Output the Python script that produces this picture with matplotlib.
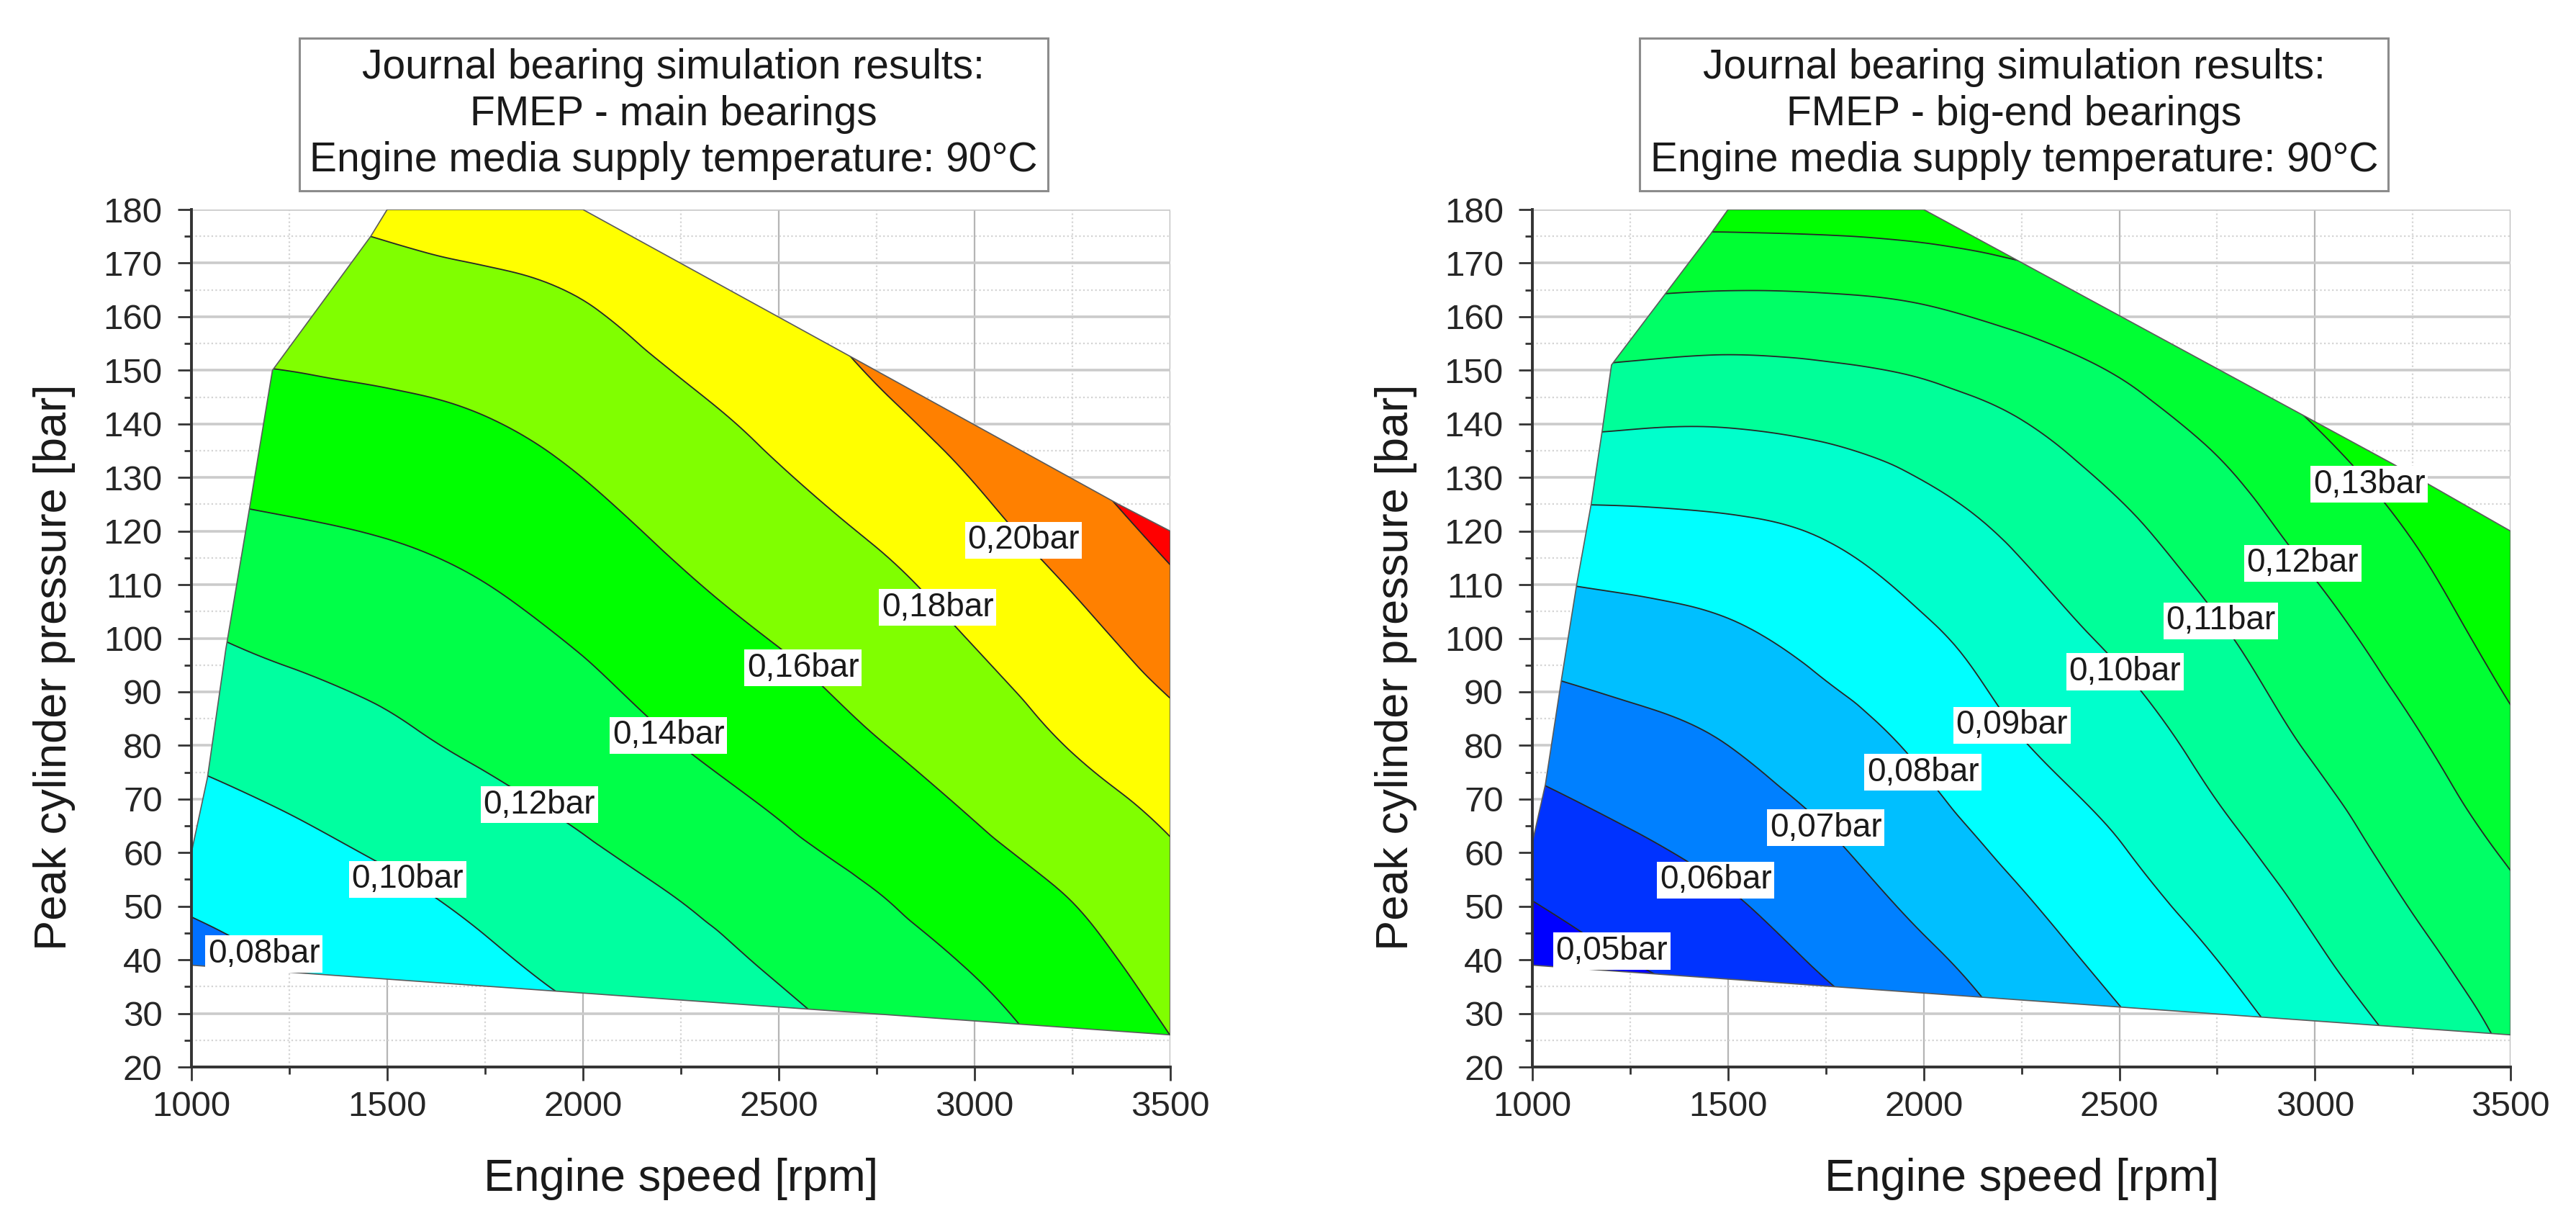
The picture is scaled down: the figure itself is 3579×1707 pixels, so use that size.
import numpy as np
import matplotlib
matplotlib.use("Agg")
import matplotlib.pyplot as plt
import matplotlib.tri as mtri
from matplotlib.patches import Polygon
from matplotlib.ticker import MultipleLocator

plt.rcParams['font.family'] = ['Liberation Sans', 'DejaVu Sans']

# --- grid nodes of the FMEP maps ---
speed_rpm = [1000, 1250, 1500, 1750, 2000, 2250, 2500, 2750, 3000, 3250, 3500]
pcp_bar = [20, 40, 60, 80, 100, 120, 140, 160, 180]

# FMEP [bar], one row per engine speed, columns = peak pressure 20..180 bar
fmep_main = [
    [0.060, 0.074, 0.089, 0.103, 0.118, 0.135, 0.151, 0.166, 0.179],  # 1000
    [0.068, 0.081, 0.095, 0.109, 0.124, 0.138, 0.153, 0.167, 0.181],  # 1250
    [0.075, 0.088, 0.102, 0.116, 0.128, 0.141, 0.155, 0.170, 0.184],  # 1500
    [0.083, 0.097, 0.110, 0.123, 0.134, 0.146, 0.159, 0.173, 0.188],  # 1750
    [0.093, 0.106, 0.118, 0.130, 0.142, 0.154, 0.166, 0.178, 0.192],  # 2000
    [0.099, 0.113, 0.126, 0.140, 0.152, 0.164, 0.175, 0.187, 0.199],  # 2250
    [0.109, 0.123, 0.136, 0.149, 0.161, 0.173, 0.184, 0.196, 0.209],  # 2500
    [0.120, 0.132, 0.145, 0.159, 0.170, 0.182, 0.195, 0.209, 0.224],  # 2750
    [0.129, 0.142, 0.156, 0.169, 0.181, 0.194, 0.208, 0.224, 0.240],  # 3000
    [0.143, 0.154, 0.166, 0.181, 0.194, 0.209, 0.224, 0.238, 0.252],  # 3250
    [0.157, 0.167, 0.178, 0.193, 0.209, 0.225, 0.240, 0.255, 0.270],  # 3500
]
fmep_bigend = [
    [0.0365, 0.0452, 0.0539, 0.0630, 0.0735, 0.0862, 0.1021, 0.1178, 0.1338],
    [0.0420, 0.0501, 0.0582, 0.0665, 0.0757, 0.0870, 0.1008, 0.1168, 0.1336],
    [0.0463, 0.0546, 0.0626, 0.0700, 0.0783, 0.0882, 0.1005, 0.1158, 0.1340],
    [0.0511, 0.0616, 0.0685, 0.0755, 0.0829, 0.0908, 0.1022, 0.1163, 0.1346],
    [0.0608, 0.0683, 0.0751, 0.0817, 0.0883, 0.0960, 0.1052, 0.1182, 0.1358],
    [0.0686, 0.0754, 0.0823, 0.0895, 0.0954, 0.1016, 0.1096, 0.1222, 0.1375],
    [0.0763, 0.0828, 0.0893, 0.0955, 0.1016, 0.1079, 0.1159, 0.1264, 0.1400],
    [0.0833, 0.0900, 0.0969, 0.1031, 0.1087, 0.1151, 0.1225, 0.1329, 0.1447],
    [0.0914, 0.0986, 0.1050, 0.1111, 0.1166, 0.1228, 0.1302, 0.1400, 0.1500],
    [0.1003, 0.1073, 0.1133, 0.1187, 0.1245, 0.1306, 0.1381, 0.1450, 0.1520],
    [0.1103, 0.1155, 0.1210, 0.1275, 0.1341, 0.1407, 0.1470, 0.1530, 0.1600],
]

# simulated operating range (outline of the maps)
range_main_rpm = [1000, 1000, 1041, 1088, 1149, 1207, 1458, 1500, 2000, 2710, 3368, 3500, 3500]
range_main_bar = [39, 60, 74, 98, 124.5, 150, 175, 180, 180, 151.5, 125, 120, 26]
range_bigend_rpm = [1000, 1000, 1033, 1075, 1113, 1150, 1178, 1202, 1455, 1500, 2000, 3200, 3500, 3500]
range_bigend_bar = [39, 62, 72.7, 92.7, 110, 125, 138.6, 151, 175.4, 180, 180, 132.5, 120, 26]

levels_main = [0.08, 0.10, 0.12, 0.14, 0.16, 0.18, 0.20, 0.22]
colors_main = ['#0070FF', '#00FFFF', '#00FFA0', '#00FF48', '#00FF00',
               '#80FF00', '#FFFF00', '#FF8000', '#FF0000']
levels_bigend = [0.05, 0.06, 0.07, 0.08, 0.09, 0.10, 0.11, 0.12, 0.13]
colors_bigend = ['#0000FF', '#0033FF', '#0080FF', '#00BFFF', '#00FFFF',
                 '#00FFCC', '#00FF99', '#00FF66', '#00FF33', '#00FF00']

# where the contour labels sit
labels_main_lev = [0.08, 0.10, 0.12, 0.14, 0.16, 0.18, 0.20]
labels_main_rpm = [1205, 1557, 1875, 2231, 2571, 2911, 3134]
labels_main_bar = [44, 55, 68, 83, 95, 106, 119]
labels_bigend_lev = [0.05, 0.06, 0.07, 0.08, 0.09, 0.10, 0.11, 0.12, 0.13]
labels_bigend_rpm = [1223, 1463, 1746, 1995, 2218, 2490, 2750, 2981, 3141]
labels_bigend_bar = [44, 54, 64, 75, 83, 93, 103, 115, 129]

title_main = "Journal bearing simulation results:\nFMEP - main bearings\nEngine media supply temperature: 90°C"
title_bigend = "Journal bearing simulation results:\nFMEP - big-end bearings\nEngine media supply temperature: 90°C"


def fmt_bar(v):
    return f"{v:.2f}".replace('.', ',') + "bar"


def smooth_tri(fmep):
    # triangulate in grid units, let matplotlib refine it with a cubic interpolator
    R, P = np.meshgrid(speed_rpm, pcp_bar)
    Z = np.array(fmep).T.ravel()
    tri = mtri.Triangulation(R.ravel() / 250.0, P.ravel() / 20.0)
    interp = mtri.CubicTriInterpolator(tri, Z, kind='min_E')
    tri_f, z_f = mtri.UniformTriRefiner(tri).refine_field(Z, triinterpolator=interp, subdiv=4)
    tri_out = mtri.Triangulation(tri_f.x * 250.0, tri_f.y * 20.0, triangles=tri_f.triangles)
    return tri_out, z_f


def label_on_line(ax, cl, levels, lev, x, y):
    # put the label on the nearest point of that level's contour
    i = levels.index(lev)
    segs = [s for s in cl.allsegs[i] if len(s)]
    pts = np.vstack(segs)
    disp = ax.transData.transform(pts)
    target = ax.transData.transform([(x, y)])[0]
    k = np.argmin(((disp - target) ** 2).sum(axis=1))
    px, py = pts[k]
    ax.text(px, py, fmt_bar(lev), fontsize=33, color='#1a1a1a', ha='center', va='center',
            zorder=5, bbox=dict(boxstyle='square,pad=0.08', facecolor='white', edgecolor='none'))


def draw_map(ax, fmep, rng_rpm, rng_bar, levels, colors, lab_lev, lab_rpm, lab_bar, title):
    tri, z = smooth_tri(fmep)

    ax.set_xlim(1000, 3500)
    ax.set_ylim(20, 180)
    ax.set_axisbelow(True)

    # grid like the original software
    ax.xaxis.set_major_locator(MultipleLocator(500))
    ax.xaxis.set_minor_locator(MultipleLocator(250))
    ax.yaxis.set_major_locator(MultipleLocator(10))
    ax.yaxis.set_minor_locator(MultipleLocator(5))
    ax.grid(which='major', axis='y', color='#cbcbcb', lw=2.6)
    ax.grid(which='major', axis='x', color='#b5b5b5', lw=1.6)
    ax.grid(which='minor', color='#d4d4d4', lw=1.6, linestyle=(0, (1, 1.5)))

    outline = Polygon(np.column_stack([rng_rpm, rng_bar]), closed=True,
                      transform=ax.transData, facecolor='none')
    fill_levels = [0.0] + levels + [1.0]
    cf = ax.tricontourf(tri, z, levels=fill_levels, colors=colors, zorder=2)
    cf.set_clip_path(outline)
    cl = ax.tricontour(tri, z, levels=levels, colors='#262626', linewidths=1.3, zorder=3)
    cl.set_clip_path(outline)

    edge = Polygon(np.column_stack([rng_rpm, rng_bar]), closed=True,
                   fill=False, edgecolor='#5a5a5a', lw=1.2, zorder=3)
    ax.add_patch(edge)

    for lev, x, y in zip(lab_lev, lab_rpm, lab_bar):
        label_on_line(ax, cl, levels, lev, x, y)

    for s in ['top', 'right']:
        ax.spines[s].set_visible(False)
    for s in ['left', 'bottom']:
        ax.spines[s].set_linewidth(2.8)
        ax.spines[s].set_color('#333333')
        ax.spines[s].set_zorder(6)

    ax.tick_params(which='major', direction='out', length=14, width=2, color='#333333',
                   labelsize=35.5, labelcolor='#262626')
    ax.tick_params(which='minor', direction='out', length=7, width=2, color='#333333')
    ax.tick_params(axis='y', which='major', pad=15)
    ax.tick_params(axis='x', which='major', pad=10)

    ax.set_xlabel("Engine speed [rpm]", fontsize=45.5, color='#1a1a1a')
    ax.set_ylabel("Peak cylinder pressure [bar]", fontsize=45.5, color='#1a1a1a')
    ax.xaxis.set_label_coords(0.5, -0.106)
    ax.yaxis.set_label_coords(-0.118, 0.466)

    ax.text(0.4925, 1.111, title, transform=ax.transAxes, ha='center', va='center',
            fontsize=41, linespacing=1.25, color='#1a1a1a',
            bbox=dict(boxstyle='square,pad=0.25', facecolor='white', edgecolor='#8c8c8c', lw=2.2))


fig = plt.figure(figsize=(35.79, 17.07), dpi=100)
ax1 = fig.add_axes([0.0743, 0.1318, 0.3800, 0.6977])
ax2 = fig.add_axes([0.5949, 0.1318, 0.3797, 0.6977])

draw_map(ax1, fmep_main, range_main_rpm, range_main_bar, levels_main, colors_main,
         labels_main_lev, labels_main_rpm, labels_main_bar, title_main)
draw_map(ax2, fmep_bigend, range_bigend_rpm, range_bigend_bar, levels_bigend, colors_bigend,
         labels_bigend_lev, labels_bigend_rpm, labels_bigend_bar, title_bigend)

fig.savefig("out.png", dpi=100, facecolor='white')
